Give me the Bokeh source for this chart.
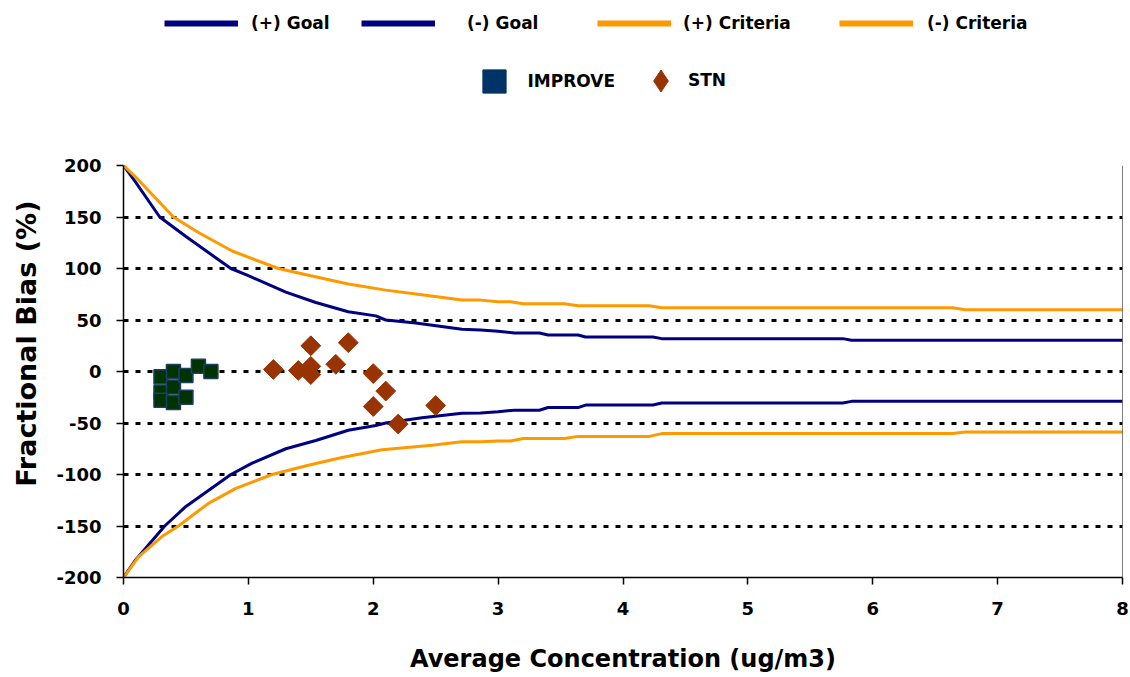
import numpy as np
from bokeh.plotting import figure
from bokeh.models import Range1d, FixedTicker, Legend, LegendItem, Span, Label
from bokeh.layouts import column, row
from bokeh.embed import file_html
from bokeh.resources import INLINE

# ---------------- data ----------------
goal_pos_x = [0, 0.09, 0.29, 0.5, 0.86, 1.0, 1.3, 1.54, 1.8, 2.02, 2.1, 2.34, 2.71, 2.86,
              3.0, 3.13, 3.33, 3.4, 3.64, 3.7, 4.24, 4.31, 5.76, 5.83, 8.0]
goal_pos_y = [200, 185, 150, 131, 100, 93, 77, 67, 58, 54, 50, 47, 41, 40.3,
              39, 37.4, 37.4, 35.5, 35.5, 33.5, 33.5, 31.9, 31.9, 30.3, 30.3]

goal_neg_x = [0, 0.09, 0.33, 0.5, 0.86, 1.03, 1.3, 1.54, 1.8, 2.02, 2.1, 2.39, 2.71, 2.86,
              3.0, 3.13, 3.33, 3.4, 3.64, 3.7, 4.24, 4.31, 5.76, 5.83, 8.0]
goal_neg_y = [-200, -184, -150, -131, -100, -89, -75, -67, -57, -52.5, -50, -45, -40.5, -40.3,
              -39, -37.6, -37.6, -35, -35, -32.6, -32.6, -30.6, -30.6, -29, -29]

crit_pos_x = [0, 0.12, 0.4, 0.6, 0.87, 1.24, 1.5, 1.8, 2.1, 2.45, 2.71, 2.86,
              3.0, 3.1, 3.2, 3.53, 3.64, 4.21, 4.31, 6.64, 6.74, 8.0]
crit_pos_y = [200, 186, 150, 135, 117, 100, 93, 85, 79, 73.5, 69.5, 69.3,
              67.7, 67.7, 65.8, 65.8, 63.8, 63.8, 61.9, 61.9, 60, 60]

crit_neg_x = [0, 0.12, 0.31, 0.44, 0.68, 0.9, 1.19, 1.48, 1.75, 2.07, 2.47, 2.71, 2.86,
              3.0, 3.1, 3.2, 3.53, 3.64, 4.21, 4.31, 6.64, 6.74, 8.0]
crit_neg_y = [-200, -180, -160, -150, -128, -113.5, -100, -91, -83.5, -76, -71.6, -68.3, -68.3,
              -67.5, -67.5, -65.1, -65.1, -63, -63, -60.3, -60.3, -58.7, -58.7]

improve_x = [0.3, 0.3, 0.3, 0.4, 0.4, 0.4, 0.5, 0.5, 0.6, 0.7]
improve_y = [-5, -20, -28, 0, -15, -30, -4, -25, 5, 0]

stn_x = [1.2, 1.4, 1.5, 1.5, 1.5, 1.7, 1.8, 2.0, 2.1, 2.0, 2.2, 2.5]
stn_y = [2, 1, 25, 5, -3, 7, 28, -2, -19, -34, -51, -33]

x_ticks = [0, 1, 2, 3, 4, 5, 6, 7, 8]
y_ticks = [-200, -150, -100, -50, 0, 50, 100, 150, 200]

legend_labels = ["(+) Goal", "(-) Goal", "(+) Criteria", "(-) Criteria", "IMPROVE", "STN"]
x_title = "Average Concentration (ug/m3)"
y_title = "Fractional Bias (%)"

# ---------------- styling ----------------
NAVY = "#000080"
ORANGE = "#FF9900"
FONT = "DejaVu Sans"
W, H = 1130, 677
TOP_H = 155          # legend strip height
LEFT_W = 50          # y-title strip width
MAIN_H = H - TOP_H
FRAME_TOP = 165

# ---------------- main chart ----------------
p = figure(width=W - LEFT_W, height=MAIN_H, output_backend="svg", toolbar_location=None,
           x_range=Range1d(0, 8), y_range=Range1d(-200, 200),
           min_border_left=123 - LEFT_W, min_border_right=8,
           min_border_top=FRAME_TOP - TOP_H, min_border_bottom=100)
p.outline_line_color = None
p.background_fill_color = "white"
p.border_fill_color = "white"

p.xgrid.visible = False
p.ygrid.ticker = FixedTicker(ticks=y_ticks)
p.ygrid.grid_line_color = "black"
p.ygrid.grid_line_width = 3
p.ygrid.grid_line_dash = "5 7"

p.xaxis.ticker = FixedTicker(ticks=x_ticks)
p.yaxis.ticker = FixedTicker(ticks=y_ticks)
p.yaxis.major_label_overrides = {t: str(t) for t in y_ticks}
for ax in (p.xaxis, p.yaxis):
    ax.axis_line_color = "black"
    ax.axis_line_width = 1.5
    ax.major_tick_line_color = "black"
    ax.major_tick_line_width = 1.5
    ax.major_tick_out = 7
    ax.major_tick_in = 0
    ax.minor_tick_line_color = None
    ax.major_label_text_font = FONT
    ax.major_label_text_font_style = "bold"
    ax.major_label_text_font_size = "18px"
    ax.major_label_text_color = "black"
    ax.axis_label_text_font = FONT
    ax.axis_label_text_font_style = "bold"
    ax.axis_label_text_color = "black"

p.xaxis.axis_label = x_title
p.xaxis.axis_label_text_font_size = "24px"
p.xaxis.major_label_standoff = 17
p.xaxis.axis_label_standoff = 27
p.yaxis.major_label_standoff = 15

p.add_layout(Span(location=8, dimension="height", line_color="black", line_width=1))

# curves
p.line(goal_pos_x, goal_pos_y, line_color=NAVY, line_width=3)
p.line(goal_neg_x, goal_neg_y, line_color=NAVY, line_width=3)
p.line(crit_pos_x, crit_pos_y, line_color=ORANGE, line_width=3)
p.line(crit_neg_x, crit_neg_y, line_color=ORANGE, line_width=3)

# points
p.scatter(improve_x, improve_y, marker="square", size=14, fill_color="#003300",
          line_color="#1B3F66", line_width=1.5)
p.scatter(stn_x, stn_y, marker="square", angle=np.pi / 4, size=14,
          fill_color="#993300", line_color="#993300")

# ---------------- legend strip ----------------
lf = figure(width=W, height=TOP_H, output_backend="svg", toolbar_location=None,
            x_range=Range1d(0, W), y_range=Range1d(0, TOP_H),
            min_border=0, min_border_left=0, min_border_right=0,
            min_border_top=0, min_border_bottom=0)
lf.outline_line_color = None
lf.axis.visible = False
lf.grid.visible = False
lf.background_fill_color = "white"
lf.border_fill_color = "white"

nan = [float("nan")]
lg_gp = lf.line(nan, nan, line_color=NAVY, line_width=6)
lg_gn = lf.line(nan, nan, line_color=NAVY, line_width=6)
lg_cp = lf.line(nan, nan, line_color=ORANGE, line_width=6)
lg_cn = lf.line(nan, nan, line_color=ORANGE, line_width=6)
lg_im = lf.scatter(nan, nan, marker="square", fill_color="#003366", line_color="#003366")
lg_st = lf.scatter(nan, nan, marker="diamond", fill_color="#993300", line_color="#993300")


def add_leg(renderer, label, vx, vy, gw, gh, standoff):
    leg = Legend(items=[LegendItem(label=label, renderers=[renderer])],
                 location=(vx, vy), glyph_width=gw, glyph_height=gh,
                 label_standoff=standoff, padding=0, margin=0, spacing=0,
                 border_line_alpha=0, background_fill_alpha=0,
                 label_text_font=FONT, label_text_font_style="bold",
                 label_text_font_size="17px", label_text_color="black",
                 label_height=gh)
    lf.add_layout(leg, "center")


add_leg(lg_gp, legend_labels[0], 164, TOP_H - 33, 74, 20, 13)
add_leg(lg_gn, legend_labels[1], 361, TOP_H - 33, 74, 20, 32)
add_leg(lg_cp, legend_labels[2], 597, TOP_H - 33, 74, 20, 12)
add_leg(lg_cn, legend_labels[3], 839, TOP_H - 33, 74, 20, 14)
add_leg(lg_im, legend_labels[4], 464.5, TOP_H - 109.5, 58, 58, 5)
add_leg(lg_st, legend_labels[5], 633, TOP_H - 107.5, 55, 55, 0)

# ---------------- y-title strip (shares the main y scale) ----------------
yf = figure(width=LEFT_W, height=MAIN_H, output_backend="svg", toolbar_location=None,
            x_range=Range1d(0, LEFT_W), y_range=p.y_range,
            min_border=0, min_border_left=0, min_border_right=0,
            min_border_top=FRAME_TOP - TOP_H, min_border_bottom=100)
yf.outline_line_color = None
yf.axis.visible = False
yf.grid.visible = False
yf.background_fill_color = "white"
yf.border_fill_color = "white"
yf.add_layout(Label(x=26, y=27, text=y_title, angle=np.pi / 2,
                    text_align="center", text_baseline="middle", text_font=FONT,
                    text_font_style="bold", text_font_size="27px", text_color="black"))

layout = column(lf, row(yf, p, spacing=0), spacing=0)
open("out.html", "w").write(file_html(layout, INLINE))
